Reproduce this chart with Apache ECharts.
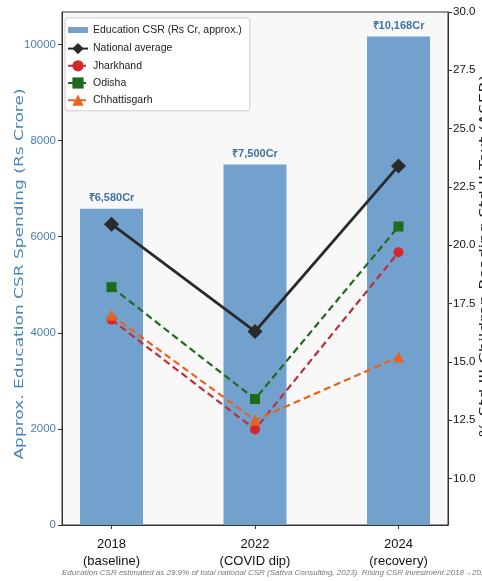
<!DOCTYPE html>
<html>
<head>
<meta charset="utf-8">
<script src="https://cdn.jsdelivr.net/npm/echarts@6/dist/echarts.min.js"></script>
<style>
  html, body { margin: 0; padding: 0; background: #fff; }
  #chart { width: 482px; height: 581px; }
</style>
</head>
<body>
<div id="chart"></div>
<script>
// Survey years and their context notes
const years = ['2018', '2022', '2024'];
const yearNotes = ['baseline', 'COVID dip', 'recovery'];

// Approximate education CSR spend (Rs crore)
const csrSpend = [6580, 7500, 10168];

// % of Std III children able to read Std II text (ASER)
const nationalAvg = [20.9, 16.3, 23.4];
const jharkhand = [16.8, 12.1, 19.7];
const odisha = [18.2, 13.4, 20.8];
const chhattisgarh = [17.0, 12.5, 15.2];

// Tick values
const leftTicks = [0, 2000, 4000, 6000, 8000, 10000];
const rightTicks = [10, 12.5, 15, 17.5, 20, 22.5, 25, 27.5, 30];

const leftTitle = 'Approx. Education CSR Spending (Rs Crore)';
const rightTitle = '% Std III Children Reading Std II Text (ASER)';
const footnote = 'Education CSR estimated as 29.9% of total national CSR (Sattva Consulting, 2023). Rising CSR investment 2018\u21922024 did not translate into proportional learning gains.';

const NARROW = '"Liberation Sans", Arial, sans-serif';
const WIDE = '"DejaVu Sans", sans-serif';

const pts = arr => arr.map((v, i) => [i, v]);

const chart = echarts.init(document.getElementById('chart'));

const lineSeries = (name, data, color, lineColor, symbol, size, width, dashed) => ({
  name, type: 'line', yAxisIndex: 1, data: pts(data),
  symbol, symbolSize: size,
  itemStyle: { color },
  lineStyle: { color: lineColor, width, type: dashed ? [7, 4] : 'solid' },
  z: 5
});

// rotated, slightly narrowed axis title
const sideTitle = (text, x, y, color, size) => ({
  type: 'text', x, y, rotation: Math.PI / 2, scaleY: 0.72, z: 10,
  style: {
    text, x: 0, y: 0, align: 'center', verticalAlign: 'middle',
    fontFamily: WIDE, fontSize: size, fill: color
  }
});

chart.setOption({
  animation: false,
  backgroundColor: '#ffffff',
  grid: {
    left: 62, right: 34, top: 12, bottom: 56,
    outerBoundsMode: 'none', containLabel: false,
    show: true, backgroundColor: '#f8f8f8', borderColor: '#333', borderWidth: 1
  },
  legend: {
    orient: 'vertical', left: 65, top: 18,
    padding: [5, 8, 5, 2], itemGap: 6, itemWidth: 20, itemHeight: 14,
    backgroundColor: '#ffffff', borderColor: '#cccccc', borderWidth: 1, borderRadius: 3,
    textStyle: { fontFamily: NARROW, fontSize: 10.5, color: '#222' },
    data: [
      { name: 'Education CSR (Rs Cr, approx.)', icon: 'path://M0,0M0,4H20V10H0ZM20,14', itemStyle: { color: '#73a1cd' } },
      'National average', 'Jharkhand', 'Odisha', 'Chhattisgarh'
    ]
  },
  xAxis: {
    type: 'value', min: -0.345, max: 2.345,
    axisLine: { show: true, onZero: false, lineStyle: { color: '#333' } },
    axisTick: { show: true, customValues: [0, 1, 2], length: 4, lineStyle: { color: '#333' } },
    axisLabel: {
      customValues: [0, 1, 2], margin: 11,
      fontFamily: NARROW, fontSize: 13, color: '#111', lineHeight: 17,
      formatter: v => years[v] + '\n(' + yearNotes[v] + ')'
    },
    splitLine: { show: false }
  },
  yAxis: [
    {
      type: 'value', min: 0, max: 10676,
      axisLine: { show: true, onZero: false, lineStyle: { color: '#333' } },
      axisTick: { show: true, customValues: leftTicks, length: 4, lineStyle: { color: '#333' } },
      axisLabel: { customValues: leftTicks, fontFamily: NARROW, fontSize: 11.5, color: '#4a7fb1', margin: 6,
        formatter: v => String(v) },
      splitLine: { show: false }
    },
    {
      type: 'value', min: 8, max: 30, position: 'right',
      axisLine: { show: true, onZero: false, lineStyle: { color: '#333' } },
      axisTick: { show: true, customValues: rightTicks, length: 4, lineStyle: { color: '#333' } },
      axisLabel: { customValues: rightTicks, fontFamily: NARROW, fontSize: 11.5, color: '#111', margin: 5,
        formatter: v => v.toFixed(1) },
      splitLine: { show: false }
    }
  ],
  series: [
    {
      name: 'Education CSR (Rs Cr, approx.)', type: 'bar', yAxisIndex: 0,
      data: pts(csrSpend), barWidth: 63,
      itemStyle: { color: '#73a1cd' },
      label: {
        show: true, position: 'top', distance: 5,
        fontFamily: NARROW, fontSize: 11, fontWeight: 'bold', color: '#3f74a8',
        formatter: p => '₹' + p.value[1].toLocaleString('en-US') + 'Cr'
      },
      z: 2
    },
    lineSeries('National average', nationalAvg, '#2a2a2a', '#2a2a2a', 'diamond', 15, 2.8, false),
    lineSeries('Jharkhand', jharkhand, '#d6282a', '#b8323c', 'circle', 10, 2.2, true),
    lineSeries('Odisha', odisha, '#1e6b1e', '#1e6b1e', 'rect', 10, 2.2, true),
    lineSeries('Chhattisgarh', chhattisgarh, '#e8631c', '#e8631c', 'triangle', 11, 2.2, true)
  ],
  graphic: [
    sideTitle(leftTitle, 19.5, 274, '#4a85b8', 17),
    sideTitle(rightTitle, 485, 256, '#222', 16.5),
    {
      type: 'text', left: 62, top: 569,
      style: { text: footnote, fontFamily: NARROW, fontSize: 8, fontStyle: 'italic', fill: '#777' }
    }
  ]
});
</script>
</body>
</html>
